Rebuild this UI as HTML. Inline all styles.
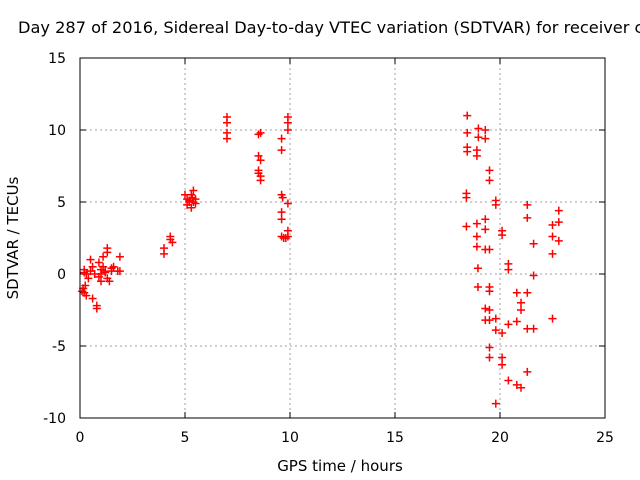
<!DOCTYPE html>
<html><head><meta charset="utf-8"><style>
body{margin:0;background:#fff}
svg{display:block;font-family:"DejaVu Sans","Liberation Sans",sans-serif}
</style></head><body>
<svg id="chart" width="640" height="480" xmlns="http://www.w3.org/2000/svg">
<text x="18" y="33" font-size="16.2" fill="#000">Day 287 of 2016, Sidereal Day-to-day VTEC variation (SDTVAR) for receiver c</text>
<g id="grid"></g><g id="ticks"></g><g id="pts"></g>
<rect x="80" y="58" width="525" height="360" fill="none" stroke="#000" stroke-width="1"/>
<text x="340" y="471" font-size="15" text-anchor="middle">GPS time / hours</text>
<text transform="translate(18,238) rotate(-90)" font-size="15" text-anchor="middle">SDTVAR / TECUs</text>
</svg>
<script>
const xTicks=[0,5,10,15,20,25];
const yTicks=[-10,-5,0,5,10,15];
const xs=[0.2,0.2,0.15,0.2,0.25,0.3,0.4,0.5,0.5,0.6,0.7,0.8,0.8,0.9,1.0,1.0,1.1,1.1,1.2,1.3,1.3,1.3,1.4,1.5,1.6,1.8,1.9,1.9,1.0,0.6,0.1,0.3,0.9,1.2,1.5,
4.0,4.0,4.3,4.3,4.4,
5.0,5.1,5.1,5.2,5.3,5.3,5.4,5.4,5.5,5.5,5.2,5.35,
7.0,7.0,7.0,7.0,
8.5,8.6,8.5,8.6,8.5,8.5,8.6,8.6,
9.6,9.6,9.6,9.65,9.6,9.6,9.6,9.7,9.9,9.9,9.9,9.9,9.9,9.9,9.8,
18.44,18.44,18.44,18.44,18.97,18.97,19.3,19.3,18.9,18.9,19.5,19.5,18.4,18.4,19.8,19.8,21.3,21.3,22.8,18.4,18.9,19.3,19.3,20.1,20.1,22.5,22.5,22.8,21.6,22.8,18.9,18.9,19.3,19.5,20.4,20.4,22.5,21.6,18.95,18.95,19.5,19.5,21.3,20.8,19.3,19.3,19.5,19.5,19.8,19.8,20.1,20.4,20.8,21.0,21.0,21.3,21.6,22.5,19.5,19.5,20.1,20.1,20.4,20.8,21.0,21.3,19.8];
const ys=[0.3,0.1,-1.0,-1.3,-0.8,-1.5,-0.3,1.0,0.2,-1.7,0,-2.2,-2.4,0.8,0,-0.5,0.5,1.2,0.2,-0.3,1.8,1.5,-0.5,0.2,0.5,0.2,1.2,0.2,0.3,0.5,-1.2,0.0,-0.2,0.1,0.4,
1.8,1.4,2.6,2.4,2.2,
5.5,5.2,4.8,5.0,5.5,4.6,5.8,5.0,5.2,4.9,5.1,5.3,
10.9,10.5,9.8,9.4,
9.7,9.8,8.2,7.9,7.2,7.0,6.8,6.5,
9.4,8.6,5.5,5.3,4.3,3.8,2.6,2.5,10.9,10.5,10.0,4.9,3.0,2.6,2.5,
11.0,9.8,8.8,8.5,10.1,9.5,10.0,9.4,8.6,8.2,7.2,6.5,5.6,5.3,5.1,4.8,4.8,3.9,4.4,3.3,3.5,3.8,3.1,3.0,2.7,3.4,2.6,3.6,2.1,2.3,2.6,1.9,1.7,1.7,0.7,0.3,1.4,-0.1,0.4,-0.9,-0.9,-1.2,-1.3,-1.3,-2.4,-3.2,-2.5,-3.2,-3.1,-3.9,-4.1,-3.5,-3.3,-2.0,-2.5,-3.8,-3.8,-3.1,-5.1,-5.8,-5.8,-6.3,-7.4,-7.7,-7.9,-6.8,-9.0];
const X=v=>80+v*21, Y=v=>274-v*14.4;
const NS="http://www.w3.org/2000/svg";
function mk(t,a,p){const e=document.createElementNS(NS,t);for(const k in a)e.setAttribute(k,a[k]);p.appendChild(e);return e;}
const grid=document.getElementById('grid'),ticks=document.getElementById('ticks'),pts=document.getElementById('pts');
xTicks.forEach(t=>{const x=X(t);
 if(t>0&&t<25){const g=mk('line',{x1:x,x2:x,y1:58,y2:418,stroke:'#a0a0a0','stroke-dasharray':'2,3'},grid);
 
 }
 mk('line',{x1:x,x2:x,y1:418,y2:412,stroke:'#000'},ticks);mk('line',{x1:x,x2:x,y1:58,y2:64,stroke:'#000'},ticks);
 const l=mk('text',{x:x,y:442,'font-size':14,'text-anchor':'middle'},ticks);l.textContent=t;
 
 });
yTicks.forEach(t=>{const y=Y(t);
 if(t>-10&&t<15){const g=mk('line',{x1:80,x2:605,y1:y,y2:y,stroke:'#a0a0a0','stroke-dasharray':'2,3'},grid);
 
 }
 mk('line',{x1:80,x2:86,y1:y,y2:y,stroke:'#000'},ticks);mk('line',{x1:605,x2:599,y1:y,y2:y,stroke:'#000'},ticks);
 const l=mk('text',{x:66,y:y+5,'font-size':14,'text-anchor':'end'},ticks);l.textContent=t;
 
 });
xs.forEach((v,i)=>{const x=X(v),y=Y(ys[i]);
 const p=mk('path',{d:`M${x-4},${y}H${x+4}M${x},${y-4}V${y+4}`,stroke:'#f00','stroke-width':1.5},pts);
 
 });
</script>
</body></html>
